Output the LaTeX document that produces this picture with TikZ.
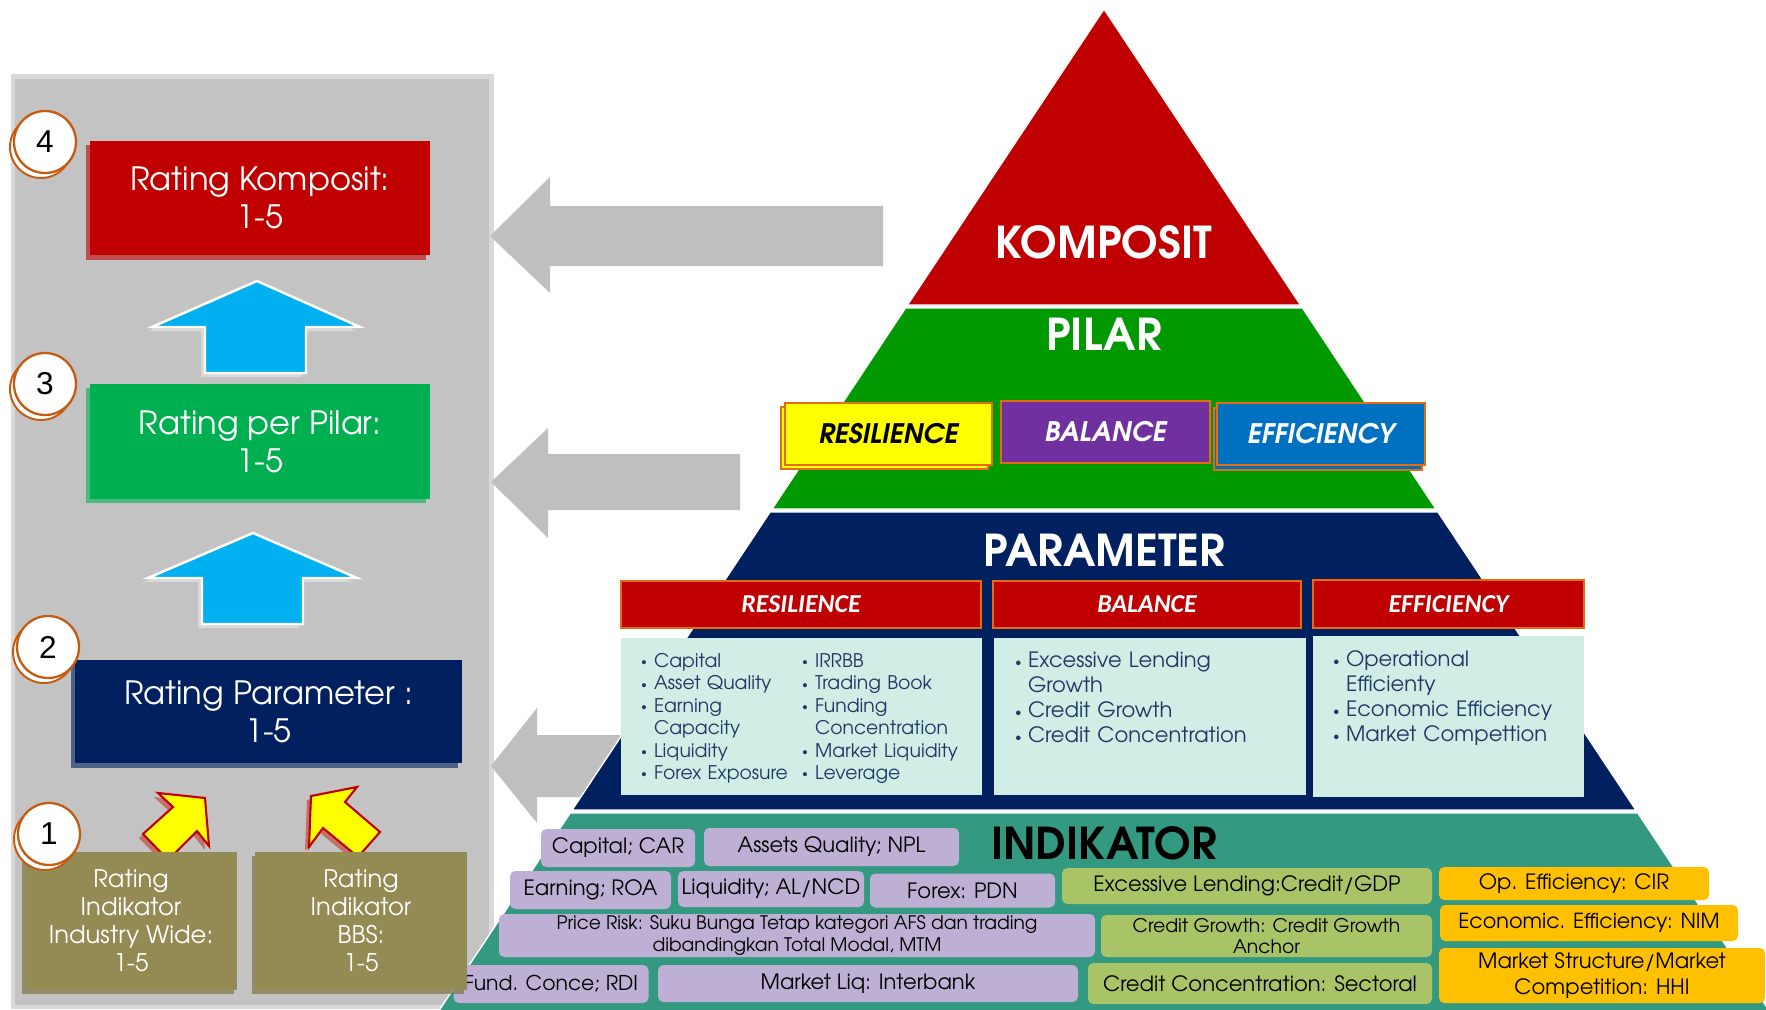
\documentclass[tikz,border=0pt]{standalone}
\usepackage{fontspec}
\usepackage{graphicx}
\setmainfont{TeX Gyre Adventor}
\newfontfamily\calibrifont{Carlito}
\newfontfamily\digitfont{Liberation Sans}
\usetikzlibrary{calc}

\definecolor{panelgray}{RGB}{195,195,195}
\definecolor{paneledge}{RGB}{217,217,217}
\definecolor{arrowgray}{RGB}{191,191,191}
\definecolor{deepred}{RGB}{192,0,0}
\definecolor{pilargreen}{RGB}{0,153,0}
\definecolor{deepnavy}{RGB}{0,32,96}
\definecolor{indteal}{RGB}{51,153,129}
\definecolor{boxgreen}{RGB}{0,176,80}
\definecolor{olivebox}{RGB}{148,138,84}
\definecolor{skyblue}{RGB}{0,176,240}
\definecolor{tabyellow}{RGB}{255,255,0}
\definecolor{tabpurple}{RGB}{112,48,160}
\definecolor{tabblue}{RGB}{0,112,192}
\definecolor{taborange}{RGB}{228,108,10}
\definecolor{mintfill}{RGB}{208,238,230}
\definecolor{listnavy}{RGB}{31,56,100}
\definecolor{indlav}{RGB}{190,176,212}
\definecolor{indgreen}{RGB}{168,196,102}
\definecolor{indorange}{RGB}{255,192,0}
\definecolor{circbrown}{RGB}{197,90,17}
\definecolor{arrowshadow}{RGB}{196,92,80}

\newcommand\fs[2]{\fontsize{#1}{#2}\selectfont}
% bullet item with hanging indent
\newcommand\itm[1]{\par\noindent\hangindent=7.4pt\hangafter=1\makebox[7.4pt][l]{\raisebox{0.15ex}{\scalebox{0.6}{\textbullet}}}#1}
% one trapezoid layer of the pyramid, between heights #1 and #2
\newcommand\pyrlayer[3]{%
  \filldraw[fill=#3, draw=white, line width=0.8pt]
    ({1104-0.664*(#1-9)},#1) -- ({1104+0.664*(#1-9)},#1) --
    ({1104+0.664*(#2-9)},#2) -- ({1104-0.664*(#2-9)},#2) -- cycle;}

\tikzset{
  sz/.style 2 args={minimum width={(#1)*0.02cm}, minimum height={(#2)*0.02cm}},
  plain/.style={inner sep=0pt, outer sep=0pt, align=center},
  ratingbox/.style={plain, text=white, font=\fs{18.3}{21.5}},
  olivestyle/.style={plain, fill=olivebox, text=white, font=\fs{13.8}{15.9}},
  heading/.style={plain, font=\bfseries\fs{25}{28}},
  pilartab/.style={plain, draw=taborange, line width=1.2pt, font=\bfseries\itshape\fs{15.3}{18}},
  redtab/.style={plain, fill=deepred, draw=taborange, line width=1.2pt, text=white, font=\calibrifont\bfseries\itshape\fs{14.7}{17}},
  mintbox/.style={plain, fill=mintfill},
  listA/.style={inner sep=0pt, outer sep=0pt, anchor=north west, text width=3.3cm, align=left, text=listnavy, font=\fs{10.7}{12.75}},
  listB/.style={inner sep=0pt, outer sep=0pt, anchor=north west, text width=5.6cm, align=left, text=listnavy, font=\fs{12}{14.2}},
  indbox/.style={plain, rounded corners=3pt, text=black, font=\fs{12}{14}},
  numcirc/.style={circle, fill=white, draw=circbrown, line width=1.3pt, inner sep=0pt, minimum size={62*0.02cm}, font=\digitfont\fs{18}{20}},
  uparrow/.style={fill=skyblue, draw=white, line width=1.4pt, line join=miter},
  yarrow/.style={fill=tabyellow, draw=deepred, line width=1.2pt, line join=miter},
}

\begin{document}
\begin{tikzpicture}[x=0.02cm, y=-0.02cm]
\useasboundingbox (0,0) rectangle (1766,1009);
\fill[white] (0,0) rectangle (1766,1009);

% ---------- left panel ----------
\fill[paneledge] (11,74) rectangle (494,1009);
\fill[panelgray] (15,79) rectangle (489,1005);

% ---------- big grey arrows from the pyramid ----------
\fill[arrowgray] (490,236) -- (550,177) -- (550,206) -- (883,206) -- (883,266) -- (550,266) -- (550,293) -- cycle;
\fill[arrowgray] (491,482) -- (548,428) -- (548,454) -- (740,454) -- (740,510) -- (548,510) -- (548,538) -- cycle;
\fill[arrowgray] (491,766) -- (537,708) -- (537,735) -- (620,735) -- (620,797) -- (537,797) -- (537,823) -- cycle;

% ---------- pyramid ----------
\pyrlayer{9}{305}{deepred}
\pyrlayer{308}{509}{pilargreen}
\pyrlayer{512}{810}{deepnavy}
\pyrlayer{813}{1015}{indteal}

\node[heading, text=white] (komposit) at (1104,242) {KOMPOSIT};
\node[heading, text=white] (pilar) at (1104,334) {PILAR};
\node[heading, text=white] (parameter) at (1104,550) {PARAMETER};
\node[heading, text=black] (indikator) at (1104,843) {INDIKATOR};

% pillar tabs
\filldraw[fill=tabyellow, draw=taborange, line width=1.2pt] (781,407) rectangle (988,469);
\node[pilartab, fill=tabyellow, text=black, sz={207}{62}] (pres) at (888.5,434) {RESILIENCE};
\node[pilartab, fill=tabpurple, text=white, sz={209}{62}] (pbal) at (1105.5,432) {BALANCE};
\filldraw[fill=tabblue, draw=taborange, line width=1.2pt] (1214,408) rectangle (1422,470);
\node[pilartab, fill=tabblue, text=white, sz={208}{62}] (peff) at (1321,434) {EFFICIENCY};

% parameter tabs and contents
\node[redtab, sz={360}{47}] (rres) at (801,604.5) {RESILIENCE};
\node[redtab, sz={308}{47}] (rbal) at (1147,604.5) {BALANCE};
\node[redtab, sz={271}{48}] (reff) at (1448.5,604) {EFFICIENCY};

\node[mintbox, sz={361}{157}] (mres) at (801.5,716.5) {};
\node[mintbox, sz={312}{157}] (mbal) at (1150,716.5) {};
\node[mintbox, sz={271}{161}] (meff) at (1448.5,716.5) {};

\node[listA] (resA) at (641,645) {\itm{Capital}\itm{Asset Quality}\itm{Earning\newline Capacity}\itm{Liquidity}\itm{Forex Exposure}};
\node[listA] (resB) at (802,645) {\itm{IRRBB}\itm{Trading Book}\itm{Funding\newline Concentration}\itm{Market Liquidity}\itm{Leverage}};
\node[listB] (balL) at (1015,643) {\itm{Excessive Lending\newline Growth}\itm{Credit Growth}\itm{Credit Concentration}};
\node[listB] (effL) at (1333,642) {\itm{Operational\newline Efficienty}\itm{Economic Efficiency}\itm{Market Compettion}};

% indicator boxes
\node[indbox, fill=indlav, sz={154}{38}] (icap) at (618,848) {Capital; CAR};
\node[indbox, fill=indlav, sz={255}{38}] (iaq) at (831.5,847) {Assets Quality; NPL};
\node[indbox, fill=indlav, sz={161}{38}] (iearn) at (590.5,890) {Earning; ROA};
\node[indbox, fill=indlav, sz={186}{36}] (iliq) at (771,889) {Liquidity; AL/NCD};
\node[indbox, fill=indlav, sz={185}{34}] (ifx) at (962.5,890.5) {Forex: PDN};
\node[indbox, fill=indlav, sz={596}{43}, font=\fs{10.6}{13}] (iprice) at (797,935.5) {Price Risk: Suku Bunga Tetap kategori AFS dan trading\\dibandingkan Total Modal, MTM};
\node[indbox, fill=indlav, sz={195}{38}, font=\fs{11.6}{14}] (ifund) at (551,984) {Fund. Conce; RDI};
\node[indbox, fill=indlav, sz={420}{37}] (imliq) at (868,983.5) {Market Liq: Interbank};

\node[indbox, fill=indgreen, sz={370}{36}] (iexl) at (1247,886) {Excessive Lending:Credit/GDP};
\node[indbox, fill=indgreen, sz={331}{42}, font=\fs{10.7}{12}] (icg) at (1266.5,936) {Credit Growth: Credit Growth\\Anchor};
\node[indbox, fill=indgreen, sz={344}{41}] (icc) at (1260,983.5) {Credit Concentration: Sectoral};

\node[indbox, fill=indorange, sz={270}{33}] (iop) at (1574,883.5) {Op. Efficiency: CIR};
\node[indbox, fill=indorange, sz={298}{36}, font=\fs{11.8}{13}] (iec) at (1589,923) {Economic. Efficiency: NIM};
\node[indbox, fill=indorange, sz={326}{55}, font=\fs{12}{14.7}] (ims) at (1602,975.5) {Market Structure/Market\\Competition: HHI};

% ---------- rating boxes ----------
\fill[deepred, opacity=0.6] (86,145) rectangle (426,260);
\node[ratingbox, fill=deepred, sz={340}{114}] (rk) at (260,198) {Rating Komposit:\\1-5};
\fill[boxgreen, opacity=0.6] (86,388) rectangle (426,503);
\node[ratingbox, fill=boxgreen, sz={340}{115}] (rp) at (260,441.5) {Rating per Pilar:\\1-5};
\fill[deepnavy, opacity=0.6] (71,664) rectangle (458,768);
\node[ratingbox, fill=deepnavy, sz={387}{103}] (rpar) at (268.5,711.5) {Rating Parameter :\\1-5};

% blue up arrows
\fill[gray!30] (253,285) -- (356,331) -- (302,331) -- (302,377) -- (201,377) -- (201,331) -- (148,331) -- cycle;
\filldraw[uparrow] (257,281) -- (360,327) -- (306,327) -- (306,373) -- (205,373) -- (205,327) -- (152,327) -- cycle;
\fill[gray!30] (249,537) -- (353,582) -- (299,582) -- (299,628) -- (198,628) -- (198,582) -- (144,582) -- cycle;
\filldraw[uparrow] (253,533) -- (357,578) -- (303,578) -- (303,624) -- (202,624) -- (202,578) -- (148,578) -- cycle;

% yellow diagonal arrows
\fill[arrowshadow, opacity=0.8] (201,802) -- (154,797) -- (169,811) -- (139,838) -- (164,864) -- (193,835) -- (205,850) -- cycle;
\filldraw[yarrow] (205,798) -- (158,793) -- (173,807) -- (143,834) -- (168,860) -- (197,831) -- (209,846) -- cycle;
\fill[arrowshadow, opacity=0.8] (307,800) -- (353,791) -- (341,806) -- (376,836) -- (354,861) -- (319,832) -- (305,851) -- cycle;
\filldraw[yarrow] (311,796) -- (357,787) -- (345,802) -- (380,832) -- (358,857) -- (323,828) -- (309,847) -- cycle;

% indicator rating boxes
\fill[olivebox!85!black, opacity=0.7] (22,856) rectangle (234,994);
\node[olivestyle, sz={212}{138}] (oind) at (131,921) {Rating\\Indikator\\Industry Wide:\\1-5};
\fill[olivebox!85!black, opacity=0.7] (252,856) rectangle (464,994);
\node[olivestyle, sz={212}{138}] (obbs) at (361,921) {Rating\\Indikator\\BBS:\\1-5};

% step numbers
\foreach \cx/\cy in {44/143, 44/385, 47/648, 48/835}
  \draw[circbrown, line width=1.1pt, fill=white] (\cx-3,\cy+4) circle [radius=31];
\node[numcirc] (c4) at (45,142) {4};
\node[numcirc] (c3) at (45,384) {3};
\node[numcirc] (c2) at (48,647) {2};
\node[numcirc] (c1) at (49,834) {1};
\end{tikzpicture}
\end{document}
